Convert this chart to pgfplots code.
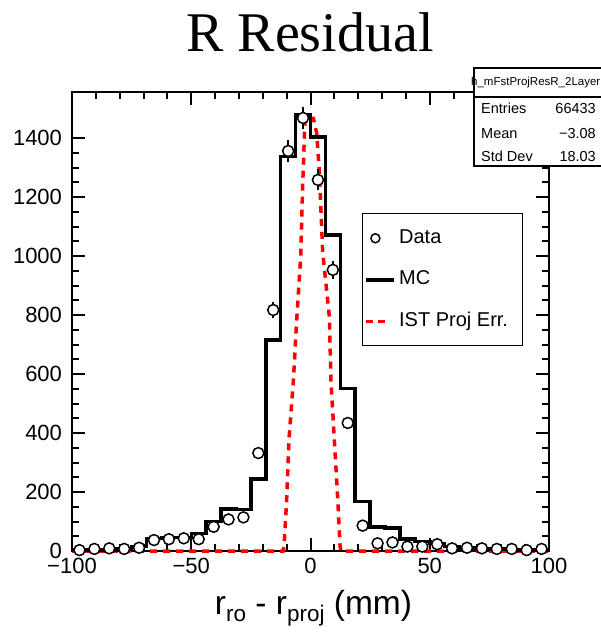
\documentclass[border=0pt]{standalone}
\usepackage{pgfplots}
\pgfplotsset{compat=1.18}
\usepackage{fontspec}
\setmainfont{Liberation Sans}
\newfontfamily\titlefont{Liberation Serif}
\definecolor{rootred}{RGB}{255,0,0}

\begin{document}
\begin{tikzpicture}
\begin{axis}[
    at={(72pt,82pt)}, anchor=south west,
    scale only axis, width=477pt, height=459pt,
    xmin=-100, xmax=100, ymin=0, ymax=1556,
    xtick={-100,-50,0,50,100},
    xticklabels={−100,−50,0,50,100},
    minor x tick num=4,
    ytick={0,200,...,1400},
    minor y tick num=3,
    scaled y ticks=false,
    /pgf/number format/1000 sep={},
    /pgf/number format/assume math mode=true,
    tick label style={font=\fontsize{22}{22}\selectfont},
    yticklabel style={xshift=-6.5pt},
    xticklabel style={yshift=-4pt},
    major tick length=13pt, minor tick length=7pt,
    axis line style={line width=2pt},
    every tick/.style={black, line width=2pt},
    clip=false,
    legend style={at={(axis description cs:0.607,0.736)}, anchor=north west,
        draw=black, line width=1.2pt, fill=white,
        font=\fontsize{20}{20}\selectfont,
        inner xsep=2.5pt, inner ysep=12.5pt, row sep=17.5pt,
        nodes={text height=14pt, text depth=4pt, inner sep=3pt}},
    legend cell align=left,
]
% IST projection error (red dashed)
\addplot[forget plot, rootred, line width=3.5pt, dash pattern=on 7pt off 6pt] coordinates {
    (-100,0) (-11.5,0) (-11.1,15) (-10,173) (-9,382) (-7.2,574) (-5.8,783)
    (-4.1,998) (-3.3,1235) (-2.3,1467) (1.2,1467) (2.6,1416) (3.7,1286)
    (5.1,1015) (7.9,794) (8.6,574) (10,376) (11.4,179) (12.4,15) (12.8,0) (100,0)
};
% MC histogram, bin width 6.25 mm
\addplot[forget plot, const plot, black, line width=3.5pt] coordinates {
    (-100,3) (-93.75,3) (-87.5,4) (-81.25,6) (-75,16) (-68.75,42) (-62.5,45)
    (-56.25,45) (-50,60) (-43.75,100) (-37.5,142) (-31.25,140) (-25,244)
    (-18.75,715) (-12.5,1337) (-6.25,1478) (0,1404) (6.25,1071) (12.5,551)
    (18.75,167) (25,82) (31.25,78) (37.5,40) (43.75,32) (50,26) (56.25,15)
    (62.5,10) (68.75,8) (75,6) (81.25,5) (87.5,4) (93.75,3) (100,3)
};
% Data
\addplot[forget plot, only marks, mark=*, mark size=5.5pt,
    mark options={fill=white, draw=black, line width=1.5pt},
    error bars/.cd, y dir=both, y explicit, error mark=none,
    error bar style={line width=1.5pt, black}] coordinates {
    (-96.875,3) +- (0,1.7)
    (-90.625,7) +- (0,2.6)
    (-84.375,9) +- (0,3)
    (-78.125,7) +- (0,2.6)
    (-71.875,11) +- (0,3.3)
    (-65.625,37) +- (0,6.1)
    (-59.375,40) +- (0,6.3)
    (-53.125,43) +- (0,6.6)
    (-46.875,40) +- (0,6.3)
    (-40.625,82) +- (0,9.1)
    (-34.375,107) +- (0,10.3)
    (-28.125,114) +- (0,10.7)
    (-21.875,332) +- (0,18.2)
    (-15.625,817) +- (0,28.6)
    (-9.375,1356) +- (0,36.8)
    (-3.125,1468) +- (0,38.3)
    (3.125,1258) +- (0,35.5)
    (9.375,953) +- (0,30.9)
    (15.625,434) +- (0,20.8)
    (21.875,86) +- (0,9.3)
    (28.125,26) +- (0,5.1)
    (34.375,29) +- (0,5.4)
    (40.625,15) +- (0,3.9)
    (46.875,15) +- (0,3.9)
    (53.125,23) +- (0,4.8)
    (59.375,9) +- (0,3)
    (65.625,11) +- (0,3.3)
    (71.875,9) +- (0,3)
    (78.125,7) +- (0,2.6)
    (84.375,7) +- (0,2.6)
    (90.625,3) +- (0,1.7)
    (96.875,7) +- (0,2.6)
};
\addlegendimage{legend image code/.code={
    \path[draw=none] (0pt,0pt) -- (28pt,0pt);
    \draw[black, line width=1.5pt] (9pt,0pt) circle (4.5pt);}}
\addlegendentry{Data}
\addlegendimage{legend image code/.code={
    \draw[black, line width=3.5pt] (0pt,0pt) -- (28pt,0pt);}}
\addlegendentry{MC}
\addlegendimage{legend image code/.code={
    \path[draw=none] (0pt,0pt) -- (28pt,0pt);
    \draw[rootred, line width=3.5pt, dash pattern=on 7pt off 5pt] (0pt,0pt) -- (19pt,0pt);}}
\addlegendentry{IST Proj Err.\rule{9pt}{0pt}}
\end{axis}

% title and x label
\node[anchor=base, font=\titlefont\fontsize{56}{56}\selectfont] at (310pt,581pt) {R Residual};
\node[anchor=base, font=\fontsize{33.5}{33.5}\selectfont] at (313.5pt,19pt)
    {r\raisebox{-7.5pt}{\fontsize{22.5}{22.5}\selectfont ro} - r\raisebox{-7.5pt}{\fontsize{22.5}{22.5}\selectfont proj} (mm)};

% stats box
\fill[white] (474pt,467pt) rectangle (650pt,565pt);
\node[anchor=base west, inner sep=0pt, font=\fontsize{11.5}{12}\selectfont] at (471pt,547pt) {h\_mFstProjResR\_2Layer};
\draw[line width=1.5pt] (474pt,467pt) rectangle (650pt,565pt);
\draw[line width=1.5pt] (474pt,536pt) -- (650pt,536pt);
\begin{scope}[every node/.style={inner sep=0pt, font=\fontsize{14.5}{15}\selectfont}]
\node[anchor=base west] at (481pt,519pt) {Entries};
\node[anchor=base east] at (596pt,519pt) {66433};
\node[anchor=base west] at (481pt,494pt) {Mean};
\node[anchor=base east] at (596pt,494pt) {−3.08};
\node[anchor=base west] at (481pt,471pt) {Std Dev};
\node[anchor=base east] at (596pt,471pt) {18.03};
\end{scope}

\pgfresetboundingbox
\useasboundingbox (0pt,0pt) rectangle (601pt,633pt);
\end{tikzpicture}
\end{document}
